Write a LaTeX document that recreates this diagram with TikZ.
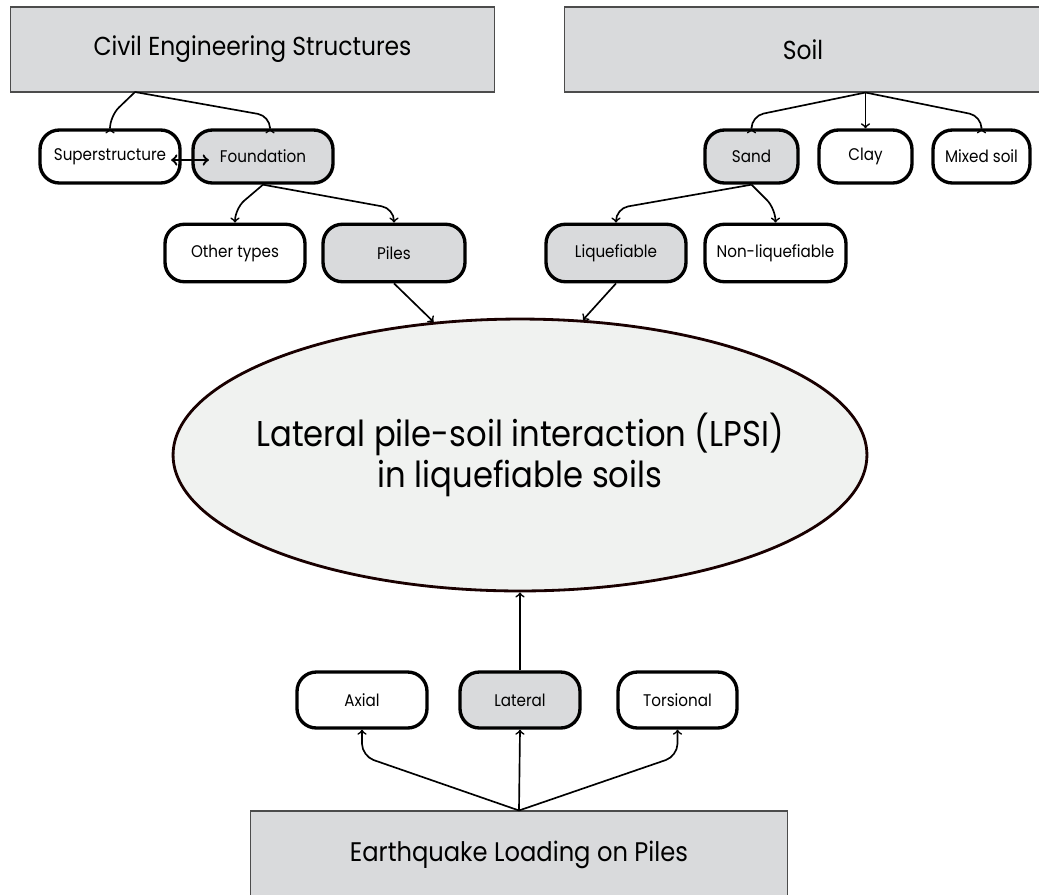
\documentclass[tikz,border=0pt]{standalone}
\usepackage{fontspec}
\setmainfont[FakeStretch=0.9]{Poppins}
\usetikzlibrary{shapes.geometric}

\definecolor{boxgrey}{HTML}{D9DADC}
\definecolor{ovalgrey}{HTML}{F0F2F0}

\begin{document}
\begin{tikzpicture}[x=0.02cm, y=-0.02cm,
    bigbox/.style={draw=black!70, line width=0.6pt, fill=boxgrey, minimum height=1.7cm, inner sep=0pt, font=\fontsize{14.8}{17}\selectfont},
    pill/.style={draw, line width=1.9pt, rounded corners=11pt, minimum width=2.8cm, minimum height=1.06cm, inner sep=0pt, font=\fontsize{9.6}{11}\selectfont},
    greypill/.style={pill, fill=boxgrey},
    link/.style={->, line width=0.95pt, rounded corners=7pt}]

    \useasboundingbox (0,0) rectangle (1039,894);

    \node[bigbox, minimum width=9.7cm] (ces) at (252.5,49.5) {Civil Engineering Structures};
    \node[bigbox, minimum width=9.56cm] (soil) at (803,49.5) {Soil};

    \node[pill] (sup) at (110,156.5) {Superstructure};
    \node[greypill] (fnd) at (263,156.5) {Foundation};
    \node[greypill, minimum width=1.86cm] (sand) at (751.5,156.5) {Sand};
    \node[pill, minimum width=1.86cm] (clay) at (865.5,156.5) {Clay};
    \node[pill, minimum width=1.94cm] (mixed) at (981.5,156.5) {Mixed soil};

    \node[pill, minimum height=1.15cm] (othr) at (235,253) {Other types};
    \node[greypill, minimum height=1.15cm, minimum width=2.84cm] (piles) at (394,253) {Piles};
    \node[greypill, minimum height=1.15cm] (liq) at (616,253) {Liquefiable};
    \node[pill, minimum height=1.15cm, minimum width=2.82cm] (nonliq) at (775.5,253) {Non-liquefiable};

    \node[ellipse, draw=black!90!red, line width=1.6pt, fill=ovalgrey, inner xsep=-12pt, inner ysep=0pt, minimum width=13.88cm, minimum height=5.44cm, align=center, font=\fontsize{20.4}{23}\selectfont] (lpsi) at (520,455) {Lateral pile-soil interaction (LPSI)\\in liquefiable soils};

    \node[pill, minimum width=2.6cm, minimum height=1.12cm] (axial) at (362,700) {Axial};
    \node[greypill, minimum width=2.4cm, minimum height=1.12cm] (lat) at (520,700) {Lateral};
    \node[pill, minimum width=2.38cm, minimum height=1.12cm] (tors) at (677.5,700) {Torsional};

    \node[bigbox, minimum width=10.76cm, minimum height=1.76cm, font=\fontsize{15.3}{17}\selectfont] (eq) at (519,855) {Earthquake Loading on Piles};

    \coordinate (cesfork) at (135,92);
    \coordinate (soilfork) at (clay.north |- soil.south);

    \draw[link] (cesfork) -- ([yshift=7pt]sup.north) -- (sup.north);
    \draw[link] (cesfork) -- ([xshift=4pt,yshift=7pt]fnd.north) -- ([xshift=4pt]fnd.north);
    \draw[<->, line width=1.3pt] ([xshift=-6pt,yshift=-2pt]sup.east) -- ([xshift=10pt,yshift=-2pt]fnd.west);

    \draw[link] (soilfork) -- ([yshift=7pt]sand.north) -- (sand.north);
    \draw[link] (soilfork) -- (clay.north);
    \draw[link] (soilfork) -- ([yshift=7pt]mixed.north) -- (mixed.north);

    \draw[link] (fnd.south) -- ([yshift=8pt]othr.north) -- (othr.north);
    \draw[link] (fnd.south) -- ([yshift=8pt]piles.north) -- (piles.north);
    \draw[link] (sand.south) -- ([yshift=8pt]liq.north) -- (liq.north);
    \draw[link] (sand.south) -- ([yshift=8pt]nonliq.north) -- (nonliq.north);

    \draw[link] (piles.south) -- (lpsi.123);
    \draw[link] (liq.south) -- (lpsi.65);
    \draw[link] (lat.north) -- (lpsi.south);

    \draw[link] (eq.north) -- ([yshift=-15pt]axial.south) -- (axial.south);
    \draw[link] (eq.north) -- (lat.south);
    \draw[link] (eq.north) -- ([yshift=-15pt]tors.south) -- (tors.south);
\end{tikzpicture}
\end{document}
